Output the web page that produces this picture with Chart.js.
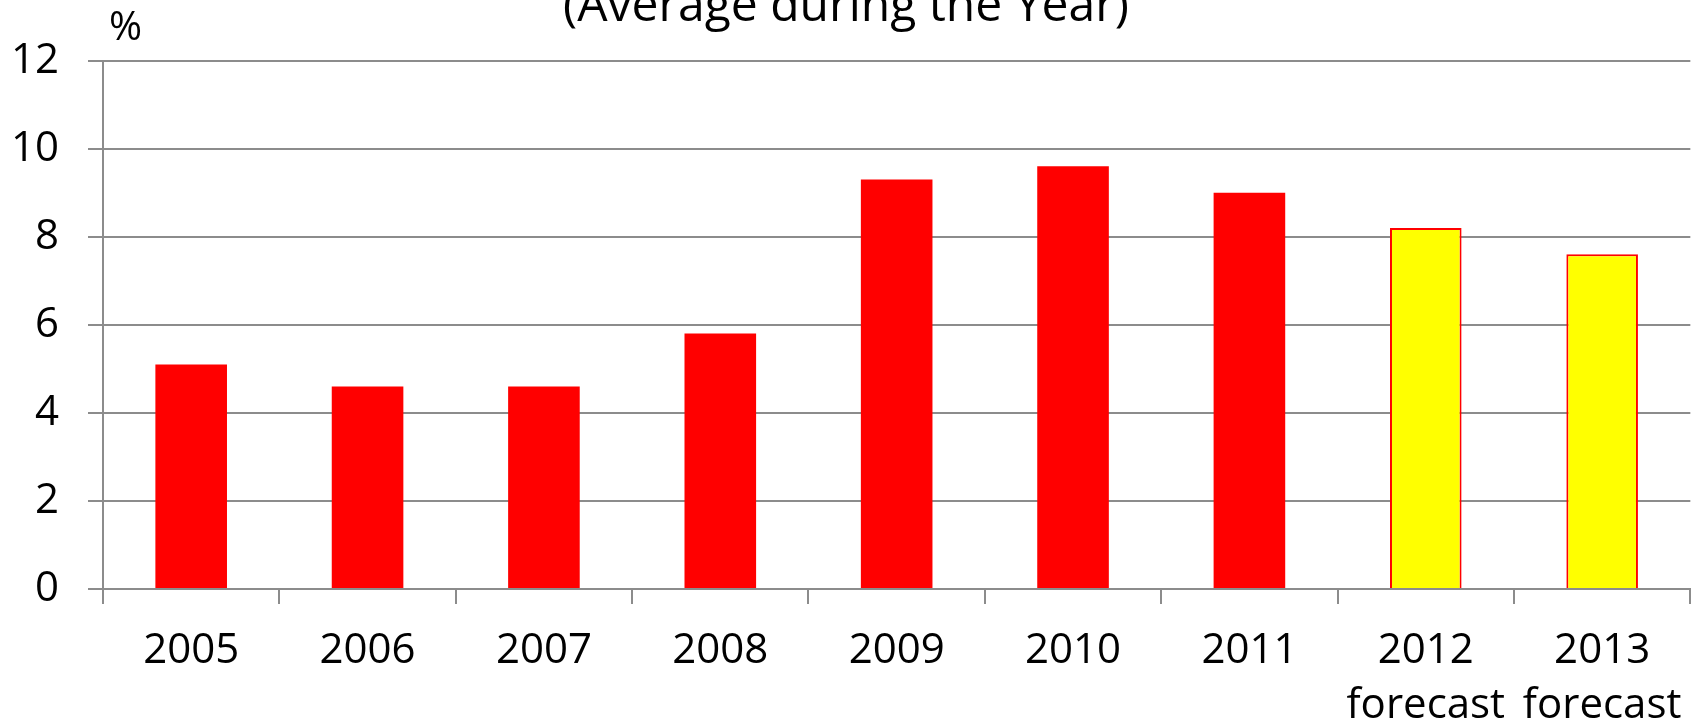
<!DOCTYPE html>
<html>
<head>
<meta charset="utf-8">
<script src="https://cdn.jsdelivr.net/npm/chart.js@4/dist/chart.umd.min.js"></script>
<style>
    html, body { margin: 0; padding: 0; background: #fff; }
    #wrap { width: 1702px; height: 728px; position: relative; }
</style>
</head>
<body>
<div id="wrap"><canvas id="chart"></canvas></div>
<script>
const years = [['2005'], ['2006'], ['2007'], ['2008'], ['2009'], ['2010'], ['2011'], ['2012', 'forecast'], ['2013', 'forecast']];
const rates = [5.1, 4.6, 4.6, 5.8, 9.3, 9.6, 9.0, 8.2, 7.6];
const isForecast = [false, false, false, false, false, false, false, true, true];
const yTicks = [0, 2, 4, 6, 8, 10, 12];

const fontFamily = '"Open Sans", sans-serif';
const gridColor = '#8c8c8c';

// small "%" label sitting above the value axis
const unitLabel = {
    id: 'unitLabel',
    afterDraw(chart) {
        const ctx = chart.ctx;
        ctx.save();
        ctx.font = '40px ' + fontFamily;
        ctx.fillStyle = '#000';
        ctx.textAlign = 'left';
        ctx.textBaseline = 'alphabetic';
        ctx.fillText('%', chart.chartArea.left + 6, chart.chartArea.top - 21);
        ctx.restore();
    }
};

new Chart(document.getElementById('chart'), {
    type: 'bar',
    data: {
        labels: years,
        datasets: [{
            label: 'Unemployment',
            data: rates,
            backgroundColor: isForecast.map(f => f ? '#ffff00' : '#ff0000'),
            borderColor: '#ff0000',
            borderWidth: isForecast.map(f => f ? 2 : 0),
            borderSkipped: 'bottom',
            barPercentage: 0.406,
            categoryPercentage: 1,
        }]
    },
    options: {
        responsive: true,
        maintainAspectRatio: false,
        animation: false,
        layout: {
            padding: { left: 0, right: 10, top: 0, bottom: 0 }
        },
        scales: {
            x: {
                grid: {
                    offset: true,
                    drawOnChartArea: false,
                    drawTicks: true,
                    tickLength: 15,
                    color: gridColor,
                    lineWidth: 2,
                },
                border: { display: true, color: gridColor, width: 2 },
                ticks: {
                    color: '#000',
                    font: { family: fontFamily, size: 42, lineHeight: 1.3 },
                    padding: 20,
                    maxRotation: 0,
                    autoSkip: false,
                },
                afterFit(scale) {
                    scale.height = 139;
                }
            },
            y: {
                min: 0,
                max: 12,
                afterBuildTicks(scale) {
                    scale.ticks = yTicks.map(v => ({ value: v }));
                },
                grid: {
                    color: gridColor,
                    lineWidth: 2,
                    drawTicks: true,
                    tickLength: 15,
                },
                border: { display: true, color: gridColor, width: 2 },
                ticks: {
                    color: '#000',
                    font: { family: fontFamily, size: 42 },
                    padding: 29,
                },
                afterFit(scale) {
                    scale.width = 103;
                }
            }
        },
        plugins: {
            legend: { display: false },
            tooltip: { enabled: false },
            title: {
                display: true,
                text: '(Average during the Year)',
                color: '#000',
                font: { family: fontFamily, size: 48, weight: 'normal' },
                padding: { top: -21, bottom: 24 },
            }
        }
    },
    plugins: [unitLabel]
});
</script>
</body>
</html>
